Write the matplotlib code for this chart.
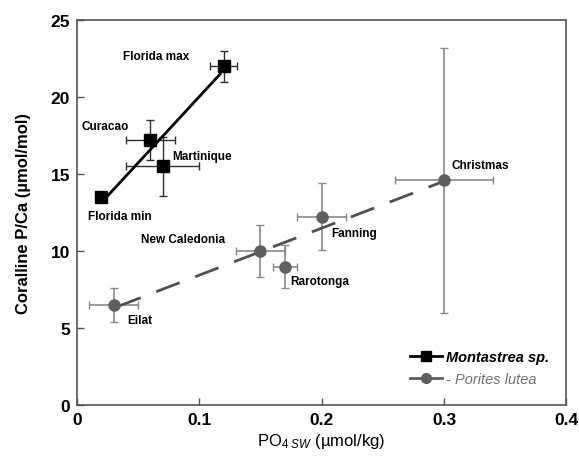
import numpy as np
import matplotlib
matplotlib.use("Agg")
import matplotlib.pyplot as plt

plt.rcParams['font.family'] = ['Liberation Sans', 'DejaVu Sans']
plt.rcParams['mathtext.fontset'] = 'custom'
plt.rcParams['mathtext.rm'] = 'Liberation Sans'
plt.rcParams['mathtext.it'] = 'Liberation Sans:italic'

# -----------------------
# Data
# -----------------------

# Montastrea sp.
mont_sites = ["Florida min", "Curacao", "Martinique", "Florida max"]
mont_po4 = [0.02, 0.06, 0.07, 0.12]
mont_pca = [13.5, 17.2, 15.5, 22.0]
mont_xerr = [0.0, 0.02, 0.03, 0.011]
mont_yerr = [0.3, 1.3, 1.9, 1.0]
mont_fit_x = [0.024, 0.117]
mont_fit_y = [13.5, 21.5]

# Porites lutea
por_sites = ["Eilat", "New Caledonia", "Rarotonga", "Fanning", "Christmas"]
por_po4 = [0.03, 0.15, 0.17, 0.20, 0.30]
por_pca = [6.5, 10.0, 9.0, 12.25, 14.6]
por_xerr = [0.02, 0.02, 0.01, 0.02, 0.04]
por_yerr = [1.1, 1.7, 1.4, 2.2, 8.6]
por_fit_x = [0.033, 0.297]
por_fit_y = [6.4, 14.45]

# label anchor positions (data coords)
mont_label_xy = [(0.009, 12.3), (0.004, 18.1), (0.078, 16.2), (0.038, 22.7)]
por_label_xy = [(0.041, 5.5), (0.052, 10.8), (0.174, 8.05), (0.208, 11.2), (0.306, 15.6)]

# -----------------------
# Plot
# -----------------------

fig = plt.figure(figsize=(5.79, 4.60), dpi=100)
ax = fig.add_axes([0.133, 0.117, 0.845, 0.837])

# Porites first so Montastrea sits on top
ax.errorbar(por_po4, por_pca, xerr=por_xerr, yerr=por_yerr, fmt='none',
            ecolor='#8a8a8a', elinewidth=1.2, capsize=3, capthick=1.0, zorder=2)
ax.plot(por_fit_x, por_fit_y, color='#505050', lw=2, dashes=(9, 6), zorder=3)
ax.plot(por_po4, por_pca, 'o', color='#5f5f5f', ms=8, zorder=4)

ax.errorbar(mont_po4, mont_pca, xerr=mont_xerr, yerr=mont_yerr, fmt='none',
            ecolor='#303030', elinewidth=1.0, capsize=3, capthick=1.0, zorder=5)
ax.plot(mont_fit_x, mont_fit_y, color='black', lw=2, zorder=6)
ax.plot(mont_po4, mont_pca, 's', color='black', ms=8, zorder=7)

for name, (lx, ly) in zip(mont_sites, mont_label_xy):
    ax.text(lx, ly, name, fontsize=8.5, fontweight='bold', va='center', ha='left')
for name, (lx, ly) in zip(por_sites, por_label_xy):
    ax.text(lx, ly, name, fontsize=8.5, fontweight='bold', va='center', ha='left')

# legend
h1, = ax.plot([], [], '-s', color='black', lw=2, ms=6.5)
h2, = ax.plot([], [], '-o', color='#5f5f5f', lw=2, ms=7)
leg = ax.legend([h1, h2], ["Montastrea sp.", "- Porites lutea"],
                loc='lower left', bbox_to_anchor=(0.665, 0.03), frameon=False,
                handlelength=2.2, handletextpad=0.3, labelspacing=0.55,
                borderpad=0, prop={'size': 10.5, 'style': 'italic', 'weight': 'bold'})
leg.get_texts()[1].set_color('#707070')
leg.get_texts()[1].set_fontweight('normal')

ax.set_xlim(0, 0.4)
ax.set_ylim(0, 25)
ax.set_xticks([0, 0.1, 0.2, 0.3, 0.4])
ax.set_xticklabels(["0", "0.1", "0.2", "0.3", "0.4"])
ax.set_yticks([0, 5, 10, 15, 20, 25])
ax.tick_params(direction='in', length=5, width=1, color='#555555',
               labelsize=12.5, pad=5)
for lbl in ax.get_xticklabels() + ax.get_yticklabels():
    lbl.set_fontweight('bold')
ax.tick_params(axis='x', top=False)
ax.tick_params(axis='y', right=False)
for s in ax.spines.values():
    s.set_color('#555555')
    s.set_linewidth(1.2)

ax.set_ylabel("Coralline P/Ca (\u00b5mol/mol)", fontsize=12, fontweight='bold', labelpad=14)
ax.set_xlabel("PO$_{4\\ \\mathit{SW}}$ (\u00b5mol/kg)", fontsize=12, labelpad=3)

fig.savefig("out.png", dpi=100)
